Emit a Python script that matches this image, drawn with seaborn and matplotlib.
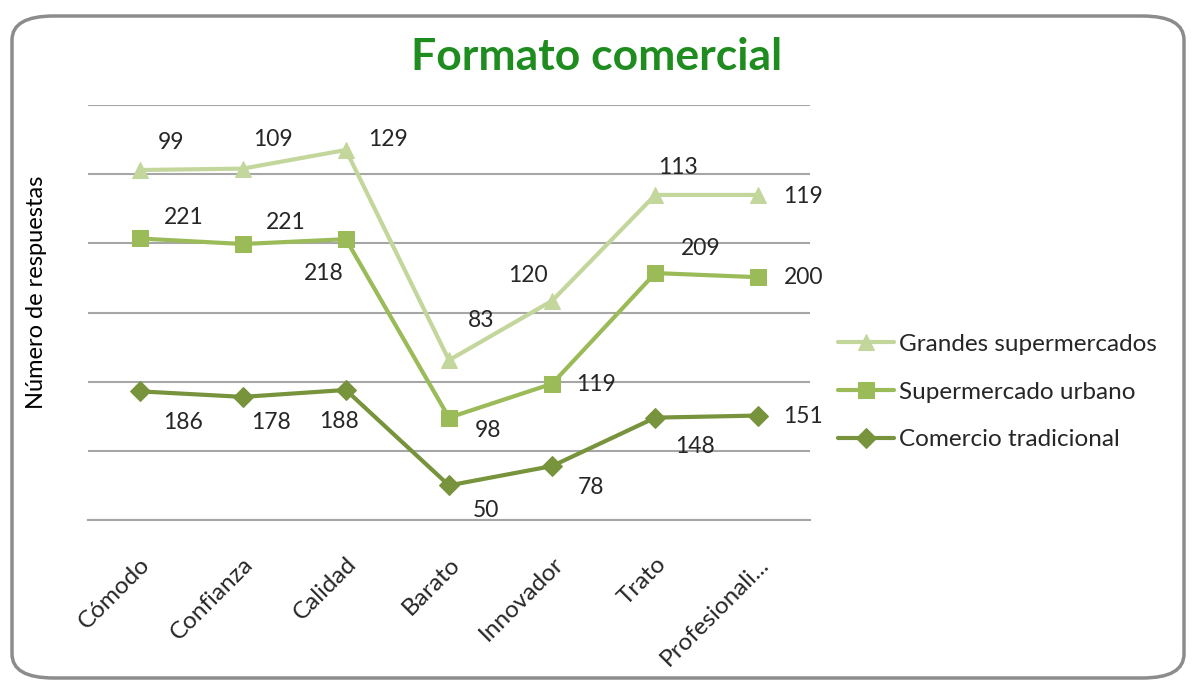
import numpy as np
import pandas as pd
import matplotlib
matplotlib.use('Agg')
import matplotlib.pyplot as plt
import seaborn as sns
from matplotlib.patches import FancyBboxPatch

# data (stacked line chart)
categories = ['Cómodo', 'Confianza', 'Calidad', 'Barato', 'Innovador', 'Trato', 'Profesionali...']
comercio = [186, 178, 188, 50, 78, 148, 151]
supermercado = [221, 221, 218, 98, 119, 209, 200]
grandes = [99, 109, 129, 83, 120, 113, 119]

series_names = ['Comercio tradicional', 'Supermercado urbano', 'Grandes supermercados']
colors = ['#77933c', '#9bbb59', '#c3d69b']
markers = ['D', 's', '^']
msizes = [10, 12, 12]

# label offsets in pixels (dx, dy), per series, per point
label_offsets = [
    [(43, -31), (28, -26), (-7, -32), (37, -25), (39, -21), (40, -29), (45, -1)],
    [(44, 21), (43, 22), (-22, -34), (39, -13), (44, -1), (45, 25), (45, 0)],
    [(31, 28), (30, 29), (42, 10), (32, 40), (-24, 25), (23, 27), (45, -2)],
]

sns.set_style('white')
plt.rcParams['font.family'] = ['Lato', 'DejaVu Sans']

df = pd.DataFrame({'cat': categories, 'x': np.arange(len(categories)),
                   series_names[0]: comercio,
                   series_names[1]: supermercado,
                   series_names[2]: grandes})
raw = [comercio, supermercado, grandes]
cum = np.cumsum(np.array(raw), axis=0)

fig = plt.figure(figsize=(11.92, 6.86), dpi=100)
fig.patch.set_facecolor('white')

frame = FancyBboxPatch((12 / 1192, 8 / 686), 1172 / 1192, 662 / 686,
                       boxstyle='round,pad=0,rounding_size=0.035',
                       transform=fig.transFigure, facecolor='white',
                       edgecolor='#8c8c8c', linewidth=2.5, zorder=-5)
fig.patches.append(frame)

ax = fig.add_axes([88 / 1192, 1 - 520 / 686, (810 - 88) / 1192, (520 - 105) / 686])
ax.set_facecolor('none')
ax.set_zorder(2)

for i, name in enumerate(series_names):
    d = pd.DataFrame({'x': df['x'], 'y': cum[i]})
    sns.lineplot(data=d, x='x', y='y', ax=ax, color=colors[i], marker=markers[i],
                 markersize=msizes[i], markeredgecolor=colors[i], linewidth=3,
                 label=name, zorder=3 + i)
    for j, v in enumerate(raw[i]):
        ax.annotate(str(v), (df['x'][j], cum[i][j]), xytext=label_offsets[i][j],
                    textcoords='offset pixels', ha='center', va='center',
                    fontsize=16.5, color='#262626')

ax.set_xlim(-0.5, len(categories) - 0.5)
ax.set_ylim(0, 600)
ax.set_yticks(np.arange(0, 601, 100))
ax.set_yticklabels([])
ax.tick_params(axis='y', length=0)
ax.yaxis.grid(True, color='#a6a6a6', linewidth=1.5)
ax.xaxis.grid(False)
for s in ['top', 'right', 'left']:
    ax.spines[s].set_visible(False)
ax.spines['bottom'].set_color('#a6a6a6')
ax.spines['bottom'].set_linewidth(1.5)

ax.set_xticks(df['x'])
ax.set_xticklabels(categories, rotation=45, ha='right', rotation_mode='anchor',
                   fontsize=17.5, color='#262626')
ax.tick_params(axis='x', length=0, pad=24)
ax.set_xlabel('')
ax.set_ylabel('Número de respuestas', fontsize=17, color='#000000')
ax.yaxis.set_label_coords(47 / 1192, 1 - 292 / 686, transform=fig.transFigure)

h, l = ax.get_legend_handles_labels()
ax.legend(h[::-1], l[::-1], loc='center left',
          bbox_to_anchor=(838 / 1192, 1 - 392 / 686), bbox_transform=fig.transFigure,
          frameon=False, fontsize=17.5, handlelength=2.3, handletextpad=0.2,
          labelspacing=1.1, borderpad=0, borderaxespad=0, labelcolor='#262626')

fig.text(597 / 1192, 1 - 57 / 686, 'Formato comercial', ha='center', va='center',
         fontsize=32, fontweight='bold', color='#1e8c1e')

fig.savefig('out.png', dpi=100)
